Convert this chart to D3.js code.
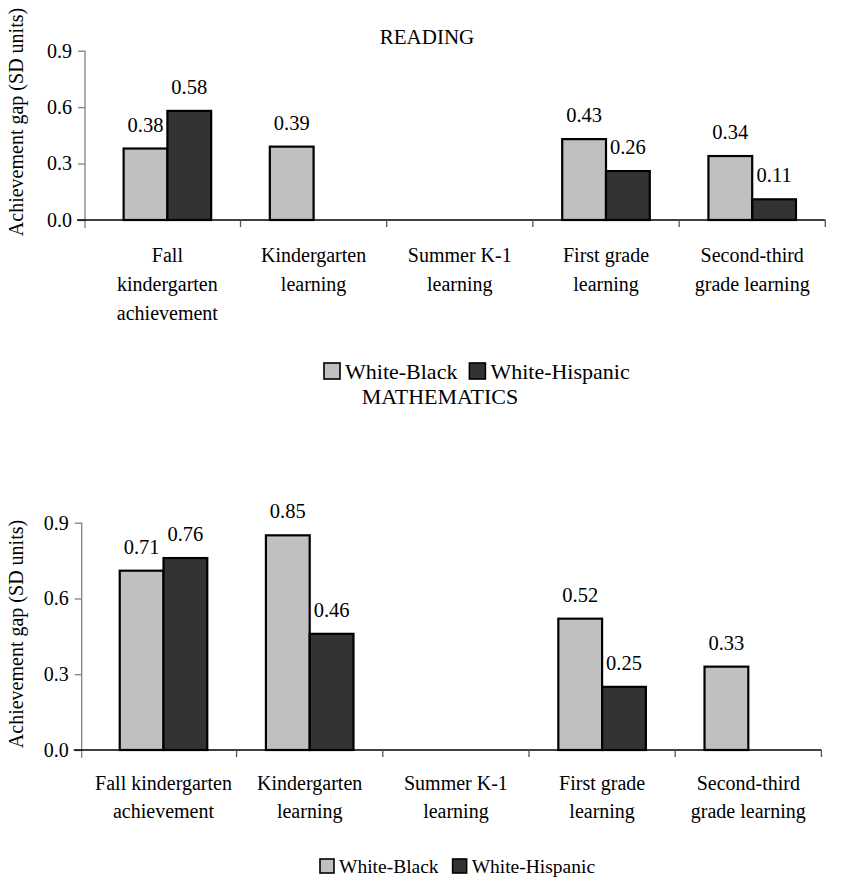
<!DOCTYPE html>
<html>
<head>
<meta charset="utf-8">
<script src="https://cdn.jsdelivr.net/npm/d3@7"></script>
<style>
  html, body { margin: 0; padding: 0; background: #fff; }
  svg { display: block; }
</style>
</head>
<body>
<svg id="chart" width="868" height="881" font-family="Liberation Serif"></svg>
<script>
// Achievement gaps by period, in standard-deviation units
const categoriesReading = [
  ["Fall", "kindergarten", "achievement"],
  ["Kindergarten", "learning"],
  ["Summer K-1", "learning"],
  ["First grade", "learning"],
  ["Second-third", "grade learning"]
];
const categoriesMath = [
  ["Fall kindergarten", "achievement"],
  ["Kindergarten", "learning"],
  ["Summer K-1", "learning"],
  ["First grade", "learning"],
  ["Second-third", "grade learning"]
];
const seriesNames = ["White-Black", "White-Hispanic"];
const seriesColors = ["#c0c0c0", "#333333"];
const readingWhiteBlack = [0.38, 0.39, null, 0.43, 0.34];
const readingWhiteHispanic = [0.58, null, null, 0.26, 0.11];
const mathWhiteBlack = [0.71, 0.85, null, 0.52, 0.33];
const mathWhiteHispanic = [0.76, 0.46, null, 0.25, null];
const yTicks = [0, 0.3, 0.6, 0.9];

const FONT = "Liberation Serif";
const svg = d3.select("#chart");

function drawPanel(cfg) {
  const g = svg.append("g").attr("font-family", FONT);
  const keys = cfg.categories.map((c, i) => i);

  const x0 = d3.scaleBand().domain(keys).range([cfg.bandStart, cfg.bandEnd]).paddingInner(0).paddingOuter(0);
  const x1 = d3.scaleBand().domain(seriesNames).range([0, x0.bandwidth()]).paddingInner(0).paddingOuter(0.67);
  const y = d3.scaleLinear().domain([0, 0.9]).range([cfg.bottom, cfg.top]);

  // panel title
  g.append("text")
    .attr("x", cfg.titleX).attr("y", cfg.titleY)
    .attr("text-anchor", "middle")
    .attr("font-size", cfg.titleFont)
    .text(cfg.title);

  // y axis
  const yAxis = g.append("g")
    .attr("transform", `translate(${cfg.left},0)`)
    .call(d3.axisLeft(y).tickValues(yTicks).tickFormat(d3.format(".1f")).tickSize(7).tickPadding(6))
    .attr("font-family", FONT)
    .attr("font-size", 20);
  yAxis.select(".domain").attr("stroke", "#808080").attr("stroke-width", 1.3)
    .attr("d", `M0,${cfg.bottom + 8}V${cfg.top}`);
  yAxis.selectAll(".tick line").attr("stroke", "#808080").attr("stroke-width", 1.3);
  yAxis.selectAll(".tick text").attr("fill", "#000");

  // y axis title
  g.append("text")
    .attr("transform", `translate(${cfg.yTitleX},${cfg.yTitleY}) rotate(-90)`)
    .attr("text-anchor", "middle")
    .attr("dominant-baseline", "central")
    .attr("font-size", 20)
    .text("Achievement gap (SD units)");

  // bars, one group per period; a missing value leaves its slot empty
  const rows = keys.map(i => seriesNames.map((s, j) => ({ cat: i, series: s, idx: j, value: cfg.values[j][i] })));
  const groups = g.append("g").selectAll("g").data(rows).join("g")
    .attr("transform", d => `translate(${x0(d[0].cat)},0)`);
  groups.selectAll("rect").data(d => d.filter(v => v.value !== null)).join("rect")
    .attr("x", d => x1(d.series))
    .attr("y", d => y(d.value))
    .attr("width", x1.bandwidth())
    .attr("height", d => y(0) - y(d.value))
    .attr("fill", d => seriesColors[d.idx])
    .attr("stroke", "#000")
    .attr("stroke-width", 2.2);
  groups.selectAll("text.val").data(d => d.filter(v => v.value !== null)).join("text")
    .attr("class", "val")
    .attr("x", d => x1(d.series) + x1.bandwidth() / 2)
    .attr("y", d => y(d.value) - 17)
    .attr("text-anchor", "middle")
    .attr("font-size", 20.5)
    .text(d => d3.format(".2f")(d.value));

  // x axis
  const xAxis = g.append("g").attr("transform", `translate(0,${cfg.bottom})`);
  xAxis.append("line")
    .attr("x1", cfg.left - 8).attr("x2", x0.range()[1])
    .attr("stroke", "#000").attr("stroke-width", 1.6);
  xAxis.selectAll("line.tick").data(keys.slice(1).concat([null])).join("line")
    .attr("class", "tick")
    .attr("x1", d => d === null ? x0.range()[1] : x0(d))
    .attr("x2", d => d === null ? x0.range()[1] : x0(d))
    .attr("y1", 0).attr("y2", 7)
    .attr("stroke", "#555").attr("stroke-width", 1.3);

  const labels = xAxis.selectAll("text.cat").data(keys).join("text")
    .attr("class", "cat")
    .attr("text-anchor", "middle")
    .attr("font-size", 20);
  labels.each(function (d) {
    const t = d3.select(this);
    cfg.categories[d].forEach((line, k) => {
      t.append("tspan")
        .attr("x", x0(d) + x0.bandwidth() / 2)
        .attr("y", cfg.labelOffset + k * cfg.lineStep)
        .text(line);
    });
  });

  // legend
  const lg = g.append("g").attr("transform", `translate(${cfg.legendX},${cfg.legendY})`);
  let offset = 0;
  seriesNames.forEach((name, j) => {
    lg.append("rect")
      .attr("x", offset).attr("y", -cfg.legendBox / 2)
      .attr("width", cfg.legendBox).attr("height", cfg.legendBox)
      .attr("fill", seriesColors[j]).attr("stroke", "#000").attr("stroke-width", 1.6);
    const t = lg.append("text")
      .attr("x", offset + cfg.legendBox + 5).attr("y", 0)
      .attr("dominant-baseline", "central")
      .attr("font-size", cfg.legendFont)
      .text(name);
    offset += cfg.legendBox + 5 + t.node().getComputedTextLength() + cfg.legendGap;
  });
}

drawPanel({
  title: "READING", titleX: 427, titleY: 44, titleFont: 21,
  categories: categoriesReading,
  values: [readingWhiteBlack, readingWhiteHispanic],
  left: 85, bandStart: 94.3, bandEnd: 825.3, top: 50.7, bottom: 220,
  yTitleX: 16, yTitleY: 122,
  labelOffset: 42, lineStep: 29,
  legendX: 324, legendY: 371, legendBox: 16, legendFont: 22, legendGap: 12
});

drawPanel({
  title: "MATHEMATICS", titleX: 440, titleY: 404, titleFont: 22,
  categories: categoriesMath,
  values: [mathWhiteBlack, mathWhiteHispanic],
  left: 81.7, bandStart: 90.4, bandEnd: 821.4, top: 522.7, bottom: 750,
  yTitleX: 16, yTitleY: 634,
  labelOffset: 40, lineStep: 28,
  legendX: 320, legendY: 866, legendBox: 14, legendFont: 19.5, legendGap: 14
});
</script>
</body>
</html>
